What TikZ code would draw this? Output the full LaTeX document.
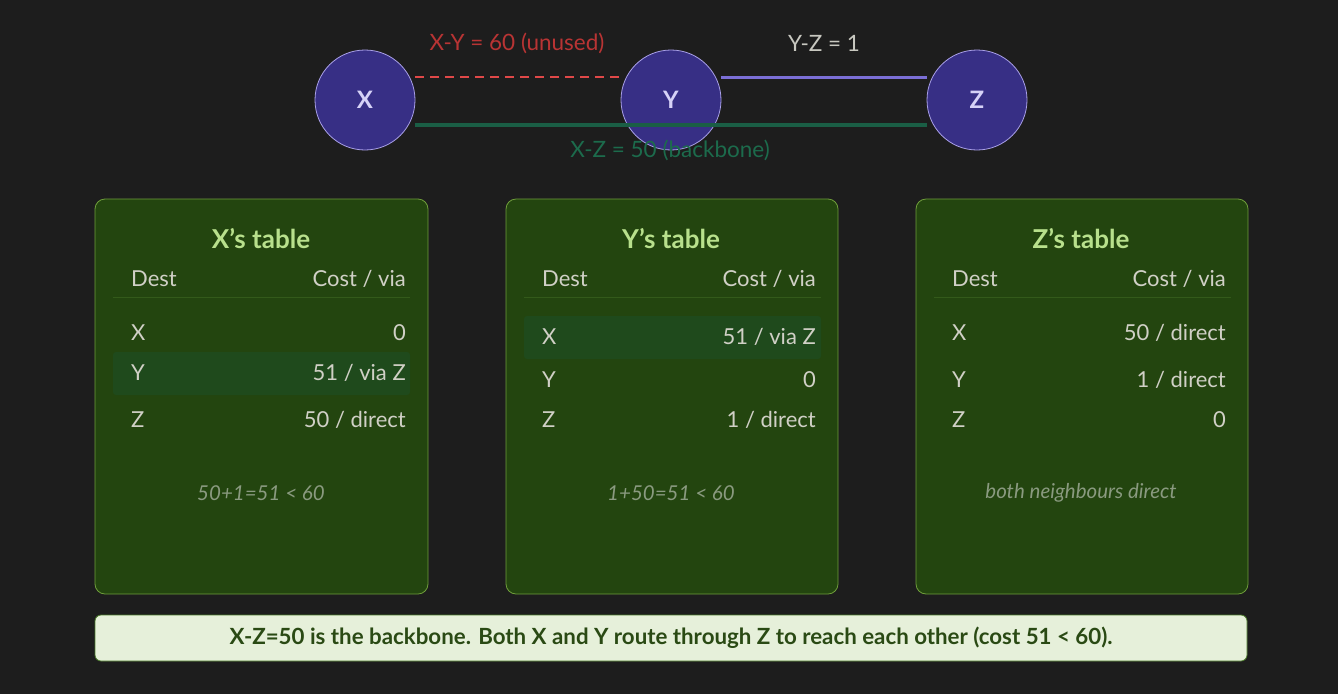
\documentclass[tikz,border=0pt]{standalone}
\usepackage{fontspec}
\setmainfont{Lato}
\definecolor{bg}{HTML}{1D1D1D}
\definecolor{nodefill}{HTML}{372F85}
\definecolor{nodeline}{HTML}{A9A0E8}
\definecolor{nodetext}{HTML}{D6D2F7}
\definecolor{redline}{HTML}{E04848}
\definecolor{redtext}{HTML}{B83434}
\definecolor{purpline}{HTML}{7B6FD6}
\definecolor{greenline}{HTML}{1A5E45}
\definecolor{greentext}{HTML}{1C6B4C}
\definecolor{graytext}{HTML}{C8C8C0}
\definecolor{panelfill}{HTML}{23450F}
\definecolor{panelline}{HTML}{6F9E3B}
\definecolor{titletext}{HTML}{B8E08C}
\definecolor{celltext}{HTML}{D0D0C6}
\definecolor{sepline}{HTML}{335A1A}
\definecolor{hilite}{HTML}{1F4A1C}
\definecolor{foottext}{HTML}{8A9A80}
\definecolor{bannerfill}{HTML}{E6F0DA}
\definecolor{bannerline}{HTML}{4A7A2A}
\definecolor{bannertext}{HTML}{2A4A14}
\tikzset{
  router/.style={circle, minimum size=100pt, inner sep=0pt, fill=nodefill, draw=nodeline, line width=0.8pt, text=nodetext, font=\fontsize{24}{26}\selectfont\bfseries},
  edgelabel/.style={font=\fontsize{22.5}{24}\selectfont, inner sep=0pt},
  panel/.style={draw=panelline, fill=panelfill, rounded corners=10pt, line width=0.8pt},
  ptitle/.style={font=\fontsize{26}{28}\selectfont\bfseries, text=titletext, inner sep=0pt},
  cellL/.style={anchor=west, font=\fontsize{22}{24}\selectfont, text=celltext, inner sep=0pt},
  cellR/.style={anchor=east, font=\fontsize{22}{24}\selectfont, text=celltext, inner sep=0pt},
  foot/.style={font=\fontsize{20.5}{22}\selectfont\itshape, text=foottext, inner sep=0pt},
  hl/.style={fill=hilite, rounded corners=3pt},
  sep/.style={draw=sepline, line width=1pt},
}
\begin{document}
\begin{tikzpicture}[x=1pt,y=-1pt]
\fill[bg] (0,0) rectangle (1338,694);
\useasboundingbox (0,0) rectangle (1338,694);

% routers
\node[router] (X) at (365,100) {X};
\node[router] (Y) at (671,100) {Y};
\node[router] (Z) at (977,100) {Z};

% links
\coordinate (xy1) at (415,77);
\coordinate (xy2) at (622,77);
\coordinate (yz1) at (721,77);
\coordinate (yz2) at (927,77);
\coordinate (xz1) at (415,125);
\coordinate (xz2) at (927,125);
\draw[redline, line width=2.5pt, dash pattern=on 9pt off 6pt] (xy1) -- (xy2);
\draw[purpline, line width=3pt] (yz1) -- (yz2);
\draw[greenline, line width=3.5pt] (xz1) -- (xz2);
\node[edgelabel, text=redtext] (lxy) at (517,43) {X-Y = 60 (unused)};
\node[edgelabel, text=graytext] (lyz) at (824,43) {Y-Z = 1};
\node[edgelabel, text=greentext] (lxz) at (670,150) {X-Z = 50 (backbone)};

% X panel
\draw[panel] (95,199) rectangle (428,594);
\node[ptitle] (tX) at (261,239) {X’s table};
\node[cellL] (hXd) at (131,279) {Dest};
\node[cellR] (hXc) at (406,279) {Cost / via};
\draw[sep] (113,297) -- (410,297);
\fill[hl] (113,352) rectangle (410,395);
\node[cellL] (xa) at (131,333) {X};
\node[cellR] (xb) at (406,333) {0};
\node[cellL] (xc) at (131,373) {Y};
\node[cellR] (xd) at (406,373) {51 / via Z};
\node[cellL] (xe) at (131,420) {Z};
\node[cellR] (xf) at (406,420) {50 / direct};
\node[foot] (fX) at (261,493) {50+1=51 < 60};

% Y panel
\draw[panel] (506,199) rectangle (838,594);
\node[ptitle] (tY) at (671,239) {Y’s table};
\node[cellL] (hYd) at (542,279) {Dest};
\node[cellR] (hYc) at (816,279) {Cost / via};
\draw[sep] (524,297) -- (821,297);
\fill[hl] (524,316) rectangle (821,359);
\node[cellL] (ya) at (542,337) {X};
\node[cellR] (yb) at (816,337) {51 / via Z};
\node[cellL] (yc) at (542,380) {Y};
\node[cellR] (yd) at (816,380) {0};
\node[cellL] (ye) at (542,420) {Z};
\node[cellR] (yf) at (816,420) {1 / direct};
\node[foot] (fY) at (671,493) {1+50=51 < 60};

% Z panel
\draw[panel] (916,199) rectangle (1248,594);
\node[ptitle] (tZ) at (1081,239) {Z’s table};
\node[cellL] (hZd) at (952,279) {Dest};
\node[cellR] (hZc) at (1226,279) {Cost / via};
\draw[sep] (934,297) -- (1231,297);
\node[cellL] (za) at (952,333) {X};
\node[cellR] (zb) at (1226,333) {50 / direct};
\node[cellL] (zc) at (952,380) {Y};
\node[cellR] (zd) at (1226,380) {1 / direct};
\node[cellL] (ze) at (952,420) {Z};
\node[cellR] (zf) at (1226,420) {0};
\node[foot] (fZ) at (1081,493) {both neighbours direct};

% banner
\draw[fill=bannerfill, draw=bannerline, line width=0.8pt, rounded corners=6pt] (95,615) rectangle (1247,661);
\node[font=\fontsize{22.3}{24}\selectfont\bfseries, text=bannertext, inner sep=0pt] (banner) at (671,638) {X-Z=50 is the backbone. Both X and Y route through Z to reach each other (cost 51 < 60).};
\end{tikzpicture}
\end{document}
